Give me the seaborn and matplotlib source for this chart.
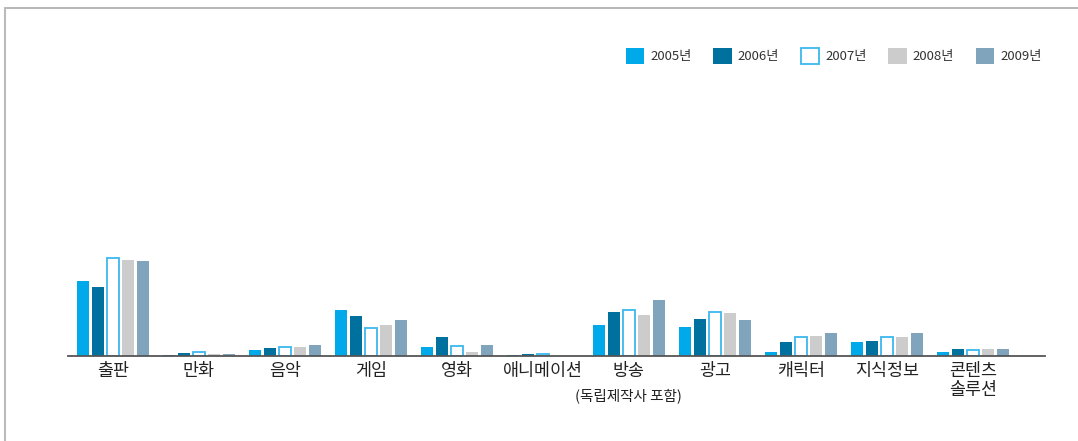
import matplotlib
matplotlib.use("Agg")
import matplotlib.pyplot as plt
from matplotlib.patches import Patch
from matplotlib.lines import Line2D
import seaborn as sns
import pandas as pd

categories = ["출판", "만화", "음악", "게임", "영화", "애니메이션", "방송", "광고", "캐릭터", "지식정보", "콘텐츠\n솔루션"]
subtitles = ["", "", "", "", "", "", "(독립제작사 포함)", "", "", "", ""]
years = ["2005년", "2006년", "2007년", "2008년", "2009년"]
v2005 = [75, 1.5, 6, 46, 9, 1, 31, 29, 4, 14, 4]
v2006 = [69, 3, 8, 40, 19, 2, 44, 37, 14, 15, 7]
v2007 = [98, 4, 9, 28, 10.5, 2, 46, 44.5, 19.5, 19.5, 6.5]
v2008 = [96, 2, 9, 31, 4, 0, 41, 43, 20, 19, 7]
v2009 = [95, 2, 11, 36, 11, 0, 56, 36, 23, 23, 7]
colors = ["#00a9e9", "#00709e", "#ffffff", "#cccccc", "#7fa4bc"]
edge_2007 = "#3cb8f0"

series = [v2005, v2006, v2007, v2008, v2009]
rows = []
for y, vals in zip(years, series):
    for c, v in zip(categories, vals):
        rows.append({"category": c, "year": y, "value": v})
df = pd.DataFrame(rows)

sns.set_style("white")
plt.rcParams["font.family"] = ["Noto Sans CJK KR", "DejaVu Sans"]

W, H = 1078, 441
fig = plt.figure(figsize=(W / 100, H / 100), dpi=100)
ax = fig.add_axes([68 / W, (H - 356) / H, (1045 - 68) / W, 340 / H])

sns.barplot(data=df, x="category", y="value", hue="year", order=categories,
            hue_order=years, palette=colors, saturation=1, width=0.87, gap=0.2,
            linewidth=0, ax=ax, legend=False)

# 2007 bars outlined
for p in ax.containers[2]:
    p.set_facecolor("white")
    p.set_edgecolor(edge_2007)
    p.set_linewidth(1.3)

ax.set_xlim(-0.52, 10.84)
ax.set_ylim(0, 340)
ax.set_xlabel("")
ax.set_ylabel("")
ax.set_yticks([])
for s in ["top", "right", "left"]:
    ax.spines[s].set_visible(False)
ax.spines["bottom"].set_color("#555555")
ax.spines["bottom"].set_linewidth(1.3)
ax.tick_params(axis="x", length=0, pad=4, labelsize=12.5, labelcolor="#222222")
ax.set_xticks(range(len(categories)))
ax.set_xticklabels(categories, linespacing=1.1)

for i, sub in enumerate(subtitles):
    if sub:
        ax.annotate(sub, xy=(i, 0), xycoords=("data", "axes fraction"),
                    xytext=(0, -28.5), textcoords="offset points",
                    ha="center", va="center", fontsize=10.5, color="#222222")

handles = []
for y, c in zip(years, colors):
    if c == "#ffffff":
        handles.append(Patch(facecolor="white", edgecolor=edge_2007, linewidth=1.3, label=y))
    else:
        handles.append(Patch(facecolor=c, edgecolor="none", label=y))
fig.legend(handles=handles, loc="center right", bbox_to_anchor=(1047 / W, (H - 56) / H),
           ncol=5, frameon=False, fontsize=9.5, handlelength=1.4, handleheight=1.4,
           handletextpad=0.45, columnspacing=1.65, labelcolor="#333333", borderaxespad=0)

# frame lines
fig.add_artist(Line2D([5 / W, 1.0], [(H - 8) / H, (H - 8) / H], color="#aaaaaa", linewidth=1.2))
fig.add_artist(Line2D([5 / W, 5 / W], [0, (H - 8) / H], color="#bbbbbb", linewidth=1.5))

fig.savefig("out.png", dpi=100)
